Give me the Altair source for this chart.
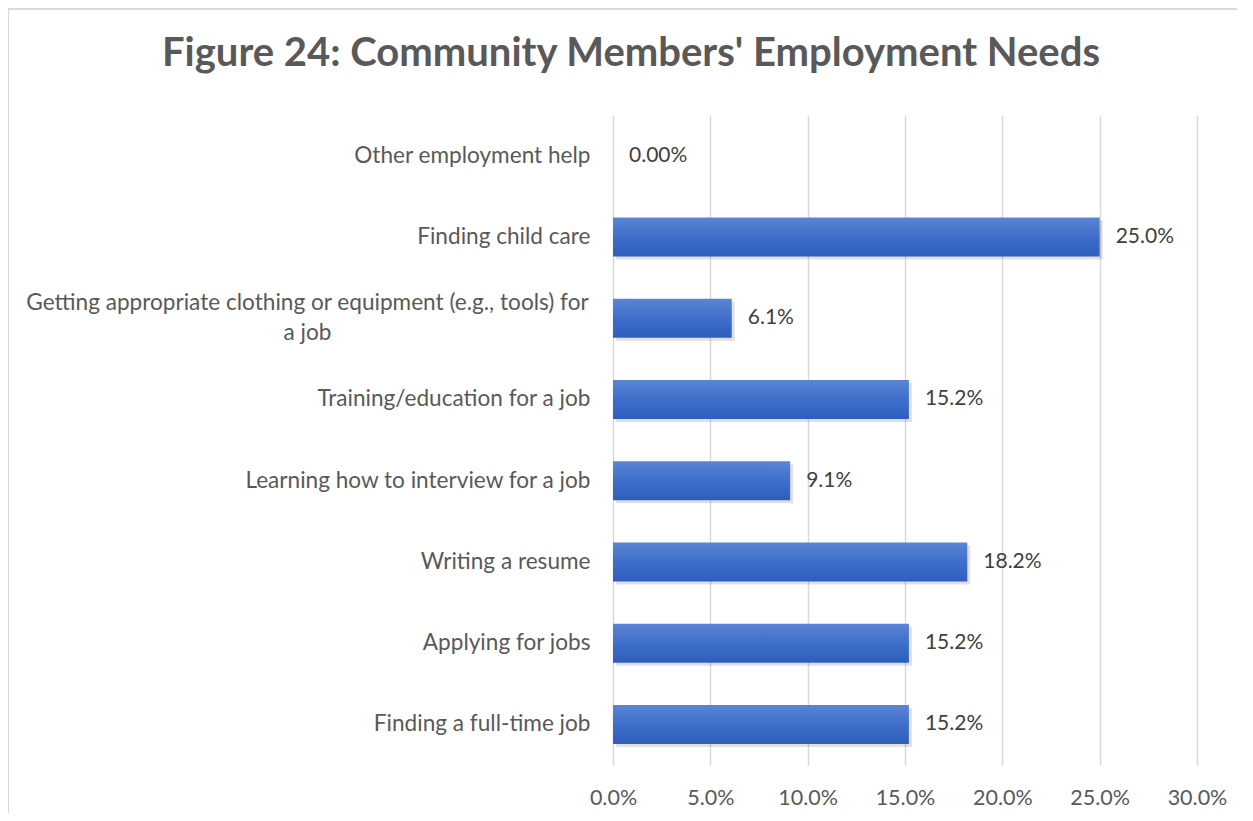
import altair as alt
import pandas as pd

categories = [
    "Other employment help",
    "Finding child care",
    "Getting appropriate clothing or equipment (e.g., tools) for a job",
    "Training/education for a job",
    "Learning how to interview for a job",
    "Writing a resume",
    "Applying for jobs",
    "Finding a full-time job",
]
values = [0.0, 0.250, 0.061, 0.152, 0.091, 0.182, 0.152, 0.152]
value_labels = ["0.00%", "25.0%", "6.1%", "15.2%", "9.1%", "18.2%", "15.2%", "15.2%"]
x_ticks = [0.0, 0.05, 0.10, 0.15, 0.20, 0.25, 0.30]
title_text = "Figure 24: Community Members' Employment Needs"

df = pd.DataFrame({"category": categories, "value": values, "label": value_labels})

FONT = "Lato"
W, H = 584, 650

yscale = alt.Scale(domain=categories, paddingInner=0.52, paddingOuter=0.26)
xscale = alt.Scale(domain=[0, 0.30])

long_test = "indexof(datum.value, 'Getting') == 0"

y_enc = alt.Y(
    "category:N",
    sort=None,
    scale=yscale,
    title=None,
    axis=alt.Axis(
        domain=False,
        ticks=False,
        labelFont=FONT,
        labelFontSize=22.6,
        labelColor="#595959",
        labelLimit=700,
        labelLineHeight=30,
        labelBaseline="middle",
        labelExpr="indexof(datum.value, 'Getting') == 0 ? ['Getting appropriate clothing or equipment (e.g., tools) for', 'a job'] : datum.label",
        labelAlign={"condition": {"test": long_test, "value": "center"}, "value": "right"},
        labelPadding={"condition": {"test": long_test, "value": 306}, "value": 23},
        labelOffset={"condition": {"test": long_test, "value": -15}, "value": 0},
    ),
)

x_enc = alt.X(
    "value:Q",
    scale=xscale,
    title=None,
    axis=alt.Axis(
        values=x_ticks,
        format=".1%",
        domain=False,
        ticks=False,
        grid=True,
        gridColor="#d9d9d9",
        gridWidth=1.5,
        labelFont=FONT,
        labelFontSize=21.5,
        labelColor="#595959",
        labelPadding=22,
        labelFlush=False,
    ),
)

base = alt.Chart(df)

shadow = base.mark_bar(color="#000000", opacity=0.12, yOffset=3, xOffset=3, height=39).encode(
    x=alt.X("value:Q", scale=xscale), y=alt.Y("category:N", sort=None, scale=yscale)
).transform_filter("datum.value > 0")

bars = base.mark_bar(
    height=39,
    color=alt.Gradient(
        gradient="linear",
        x1=0, x2=0, y1=0, y2=1,
        stops=[
            alt.GradientStop(color="#5b85d4", offset=0),
            alt.GradientStop(color="#3f6fca", offset=0.5),
            alt.GradientStop(color="#2d5ebd", offset=1),
        ],
    ),
).encode(x=x_enc, y=y_enc)

texts = base.mark_text(
    align="left", baseline="middle", dx=16, font=FONT, fontSize=21, color="#404040"
).encode(
    x=alt.X("value:Q", scale=xscale),
    y=alt.Y("category:N", sort=None, scale=yscale),
    text="label:N",
)

border_left = alt.Chart(pd.DataFrame({"a": [0]})).mark_rule(color="#d9d9d9", strokeWidth=2).encode(
    x=alt.value(-605), y=alt.value(-106), y2=alt.value(720)
)
border_top = alt.Chart(pd.DataFrame({"a": [0]})).mark_rule(color="#d9d9d9", strokeWidth=2).encode(
    x=alt.value(-605), x2=alt.value(660), y=alt.value(-106)
)

chart = alt.layer(border_left, border_top, shadow, bars, texts).properties(
    width=W,
    height=H,
    autosize=alt.AutoSizeParams(type="none"),
    padding={"left": 605, "top": 107, "right": 40, "bottom": 48},
    title=alt.TitleParams(
        text=title_text,
        font=FONT,
        fontSize=40,
        fontWeight="bold",
        color="#595959",
        anchor="middle",
        baseline="alphabetic",
        dx=-274,
        offset=-98,
    ),
).configure_view(stroke=None)

chart.save("out.html", embed_options={"renderer": "svg", "actions": False})
